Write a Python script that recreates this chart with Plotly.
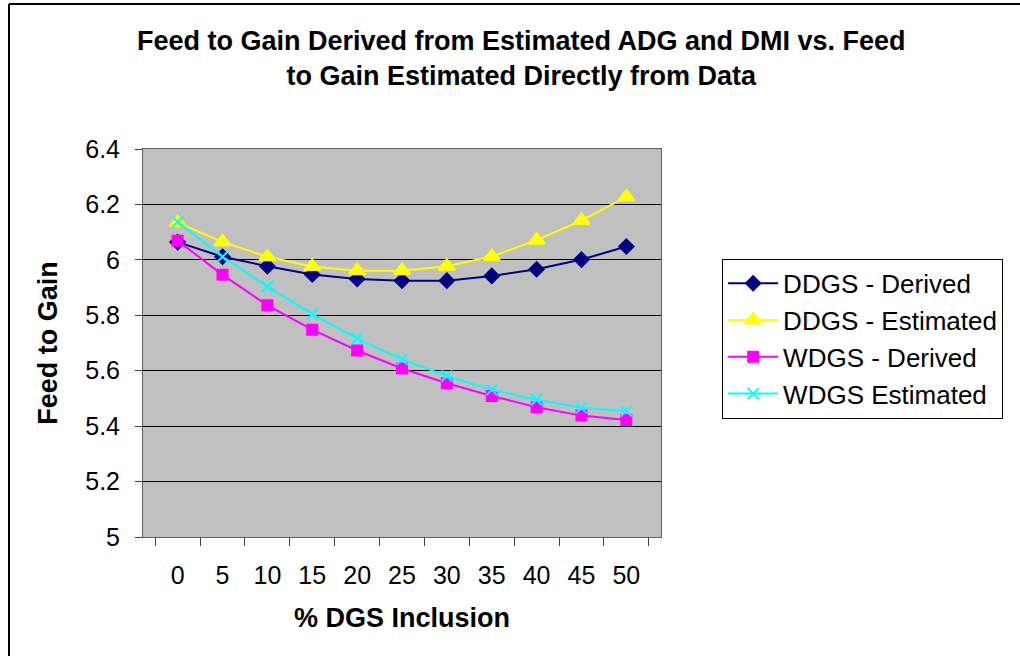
import plotly.graph_objects as go

categories = ["0", "5", "10", "15", "20", "25", "30", "35", "40", "45", "50"]
ddgs_derived = [6.064, 6.011, 5.977, 5.947, 5.931, 5.925, 5.925, 5.942, 5.966, 6.001, 6.048]
ddgs_estimated = [6.134, 6.065, 6.011, 5.976, 5.961, 5.961, 5.977, 6.012, 6.071, 6.142, 6.227]
wdgs_derived = [6.069, 5.946, 5.836, 5.748, 5.673, 5.608, 5.555, 5.509, 5.468, 5.438, 5.422]
wdgs_estimated = [6.137, 6.011, 5.904, 5.804, 5.716, 5.641, 5.581, 5.531, 5.495, 5.466, 5.455]

FONT = "Liberation Sans, Arial, sans-serif"

fig = go.Figure()
series = [
    ("DDGS - Derived", ddgs_derived, "#000080", "diamond", 11),
    ("DDGS - Estimated", ddgs_estimated, "#FFFF00", "triangle-up", 14),
    ("WDGS - Derived", wdgs_derived, "#FF00FF", "square", 10),
    ("WDGS Estimated", wdgs_estimated, "#00FFFF", "x-thin", 11),
]
for i, (name, vals, color, sym, size) in enumerate(series):
    fig.add_trace(go.Scatter(
        x=categories, y=vals, name=name, mode="lines+markers",
        legendgroup="g%d" % i,
        line=dict(color=color, width=2),
        marker=dict(symbol=sym, size=size, color=color,
                    line=dict(color=color, width=2)),
    ))

fig.update_layout(
    width=1020, height=656,
    margin=dict(l=143, r=359, t=149, b=119, autoexpand=False),
    paper_bgcolor="white",
    plot_bgcolor="#C0C0C0",
    font=dict(family=FONT, size=25, color="black"),
    title=dict(
        text="<b>Feed to Gain Derived from Estimated ADG and DMI vs. Feed<br>to Gain Estimated Directly from Data</b>",
        x=0.511, xanchor="center", y=0.924, yanchor="top",
        font=dict(family=FONT, size=27, color="black"),
    ),
    showlegend=True,
    legend=dict(
        x=1.118, xanchor="left", y=0.717, yanchor="top",
        bgcolor="white", bordercolor="black", borderwidth=1,
        font=dict(family=FONT, size=26, color="black"),
        tracegroupgap=3, traceorder="normal", itemwidth=50,
    ),
)

fig.update_xaxes(
    type="category",
    title=dict(text="<b>% DGS Inclusion</b>", font=dict(size=27), standoff=20),
    showgrid=False, showline=True, linecolor="#606060", linewidth=1, mirror=True,
    ticks="outside", tickson="boundaries", ticklen=8, tickcolor="#404040",
    tickfont=dict(size=25), ticklabelstandoff=16,
)
fig.update_yaxes(
    range=[5, 6.4], dtick=0.2, tick0=5,
    title=dict(text="<b>Feed to Gain</b>", font=dict(size=27), standoff=19),
    showgrid=True, gridcolor="black", gridwidth=1,
    showline=True, linecolor="#606060", linewidth=1, mirror=True,
    ticks="outside", ticklen=7, tickcolor="#404040",
    tickfont=dict(size=25), zeroline=False, ticklabelstandoff=10,
)

# outer chart border (visible on left and top)
fig.add_shape(type="line", xref="paper", yref="paper",
              x0=(9 - 143) / 518, x1=3.0, y0=(537 - 4) / 388, y1=(537 - 4) / 388,
              line=dict(color="black", width=2))
fig.add_shape(type="line", xref="paper", yref="paper",
              x0=(9 - 143) / 518, x1=(9 - 143) / 518, y0=-2.0, y1=(537 - 4) / 388,
              line=dict(color="black", width=2))

fig.write_html("out.html", config={"displayModeBar": False},
               post_script="document.body.style.margin='0';")
